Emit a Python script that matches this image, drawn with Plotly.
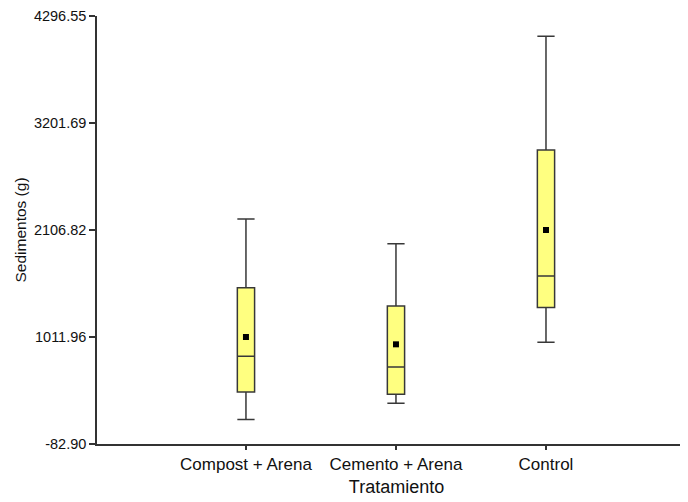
import plotly.graph_objects as go

categories = ["Compost + Arena", "Cemento + Arena", "Control"]
lower_whisker = [169, 333, 957]
q1_values = [449, 425, 1315]
median_values = [814, 704, 1636]
q3_values = [1516, 1329, 2925]
upper_whisker = [2219, 1966, 4089]
mean_values = [1012, 937, 2107]
y_tick_values = [-82.90, 1011.96, 2106.82, 3201.69, 4296.55]
y_tick_labels = ["-82.90", "1011.96", "2106.82", "3201.69", "4296.55"]

FONT = "Liberation Sans, Arial, sans-serif"

fig = go.Figure()
for i, cat in enumerate(categories):
    fig.add_trace(go.Box(
        x=[i],
        q1=[q1_values[i]], median=[median_values[i]], q3=[q3_values[i]],
        lowerfence=[lower_whisker[i]], upperfence=[upper_whisker[i]],
        width=0.115, whiskerwidth=1,
        fillcolor="#ffff80",
        line=dict(color="#383838", width=1.5),
        boxpoints=False, showlegend=False, hoverinfo="skip",
    ))

fig.add_trace(go.Scatter(
    x=list(range(len(categories))), y=mean_values, mode="markers",
    marker=dict(symbol="square", size=6, color="black"),
    showlegend=False, hoverinfo="skip",
))

fig.update_layout(
    width=688, height=502,
    margin=dict(l=89, r=0, t=8, b=66),
    paper_bgcolor="white", plot_bgcolor="white",
    font=dict(family=FONT, color="#000000"),
    xaxis=dict(
        range=[-0.993, 3.0],
        automargin=False,
        tickmode="array", tickvals=list(range(len(categories))), ticktext=categories,
        tickfont=dict(size=17, family=FONT, color="#111"),
        ticks="outside", ticklen=4, tickwidth=1.5, tickcolor="#333",
        showline=True, linecolor="#333", linewidth=1.5,
        showgrid=False, zeroline=False,
        title=dict(text="Tratamiento", font=dict(size=18, family=FONT, color="#111"), standoff=7),
    ),
    yaxis=dict(
        range=[-82.90, 4296.55],
        automargin=False,
        tickmode="array", tickvals=y_tick_values, ticktext=y_tick_labels,
        tickfont=dict(size=14.5, family=FONT, color="#111"),
        ticks="outside", ticklen=6, tickwidth=1.5, tickcolor="#333",
        showline=True, linecolor="#333", linewidth=1.5,
        showgrid=False, zeroline=False,
        title=dict(text="Sedimentos (g)", font=dict(size=15.5, family=FONT, color="#111"), standoff=4),
    ),
)

fig.write_html("out.html")
